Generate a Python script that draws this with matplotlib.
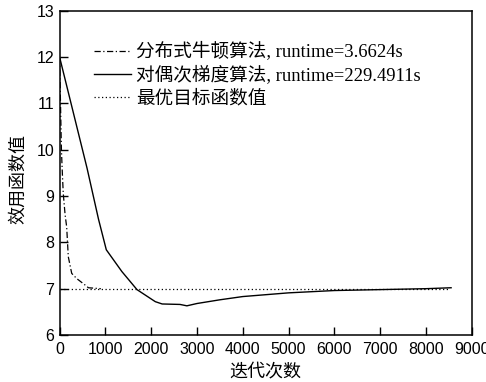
import matplotlib
matplotlib.use("Agg")
import matplotlib.pyplot as plt

# Data
newton_x = [0, 20, 40, 60, 80, 120, 155, 190, 265, 372, 555, 630, 900]
newton_y = [12.0, 11.0, 10.0, 9.5, 9.06, 8.6, 8.33, 7.69, 7.33, 7.22, 7.08, 7.02, 7.0]

dual_x = [0, 600, 850, 1020, 1360, 1690, 2090, 2240, 2630, 2780, 3000, 3500,
          4000, 5000, 6000, 7000, 8000, 8550]
dual_y = [12.0, 9.6, 8.5, 7.84, 7.37, 6.98, 6.72, 6.67, 6.66, 6.63, 6.68, 6.76,
          6.83, 6.91, 6.96, 6.98, 7.0, 7.02]

opt_x = [0, 8500]
opt_y = [7.0, 7.0]

labels = ["分布式牛顿算法, runtime=3.6624s",
          "对偶次梯度算法, runtime=229.4911s",
          "最优目标函数值"]
xlabel = "迭代次数"
ylabel = "效用函数值"
xticks = [0, 1000, 2000, 3000, 4000, 5000, 6000, 7000, 8000, 9000]
yticks = [6, 7, 8, 9, 10, 11, 12, 13]

fig = plt.figure(figsize=(4.86, 3.82), dpi=100)
ax = fig.add_axes([0.1226, 0.123, 0.848, 0.849])

ax.plot(newton_x, newton_y, color="black", lw=0.9, linestyle=(0, (5, 2, 1, 2)), label=labels[0])
ax.plot(dual_x, dual_y, color="black", lw=1.0, linestyle="-", label=labels[1])
ax.plot(opt_x, opt_y, color="black", lw=0.9, linestyle=(0, (1, 2)), label=labels[2])

ax.set_xlim(0, 9000)
ax.set_ylim(6, 13)
ax.set_xticks(xticks)
ax.set_yticks(yticks)
ax.tick_params(direction="in", length=5.5, width=1.0, labelsize=11.5, pad=4,
               top=False, right=False)
ax.tick_params(axis="x", pad=5)
for lab in ax.get_xticklabels() + ax.get_yticklabels():
    lab.set_family(["Liberation Sans", "DejaVu Sans"])
for s in ax.spines.values():
    s.set_linewidth(1.1)

ax.set_xlabel(xlabel, family=["Noto Sans CJK SC"], fontsize=13, labelpad=4)
ax.set_ylabel(ylabel, family=["Noto Sans CJK SC"], fontsize=13)
ax.yaxis.set_label_coords(-0.078, 0.48)

leg = ax.legend(loc="upper left", bbox_to_anchor=(0.0835, 0.903), frameon=False,
                handlelength=2.0, handletextpad=0.25, labelspacing=0.26,
                borderpad=0, borderaxespad=0,
                prop={"family": ["Liberation Serif", "Noto Sans CJK SC"], "size": 13.4})

fig.savefig("out.png", dpi=100)
